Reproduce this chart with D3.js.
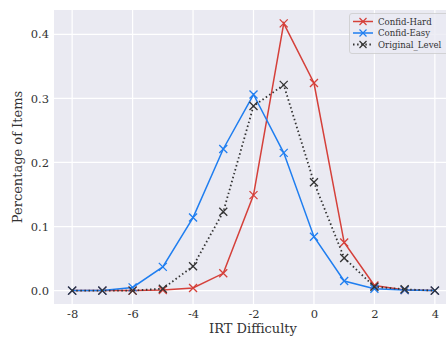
<!DOCTYPE html>
<html><head><meta charset="utf-8">
<script src="https://cdn.jsdelivr.net/npm/d3@7"></script>
<style>body{margin:0;background:#fff}svg{display:block}</style>
</head><body>
<script>
const xs = [-8,-7,-6,-5,-4,-3,-2,-1,0,1,2,3,4];
const confidHard = [0,0,0,0.001,0.004,0.027,0.149,0.417,0.324,0.075,0.008,0.001,0];
const confidEasy = [0,0,0.005,0.037,0.114,0.221,0.306,0.215,0.084,0.015,0.003,0.001,0];
const originalLevel = [0,0,0,0.003,0.038,0.123,0.288,0.321,0.169,0.051,0.006,0.002,0];
const seriesNames = ["Confid-Hard","Confid-Easy","Original_Level"];
const xTicks = [-8,-6,-4,-2,0,2,4];
const yTicks = [0.0,0.1,0.2,0.3,0.4];

const W=446,H=338;
const L=54,R=453,T=10,B=304;
const svg=d3.select("body").append("svg").attr("width",W).attr("height",H);
const x=d3.scaleLinear().domain([-8.6,4.6]).range([L,R]);
const y=d3.scaleLinear().domain([-0.0209,0.4379]).range([B,T]);
const font="DejaVu Serif";
svg.append("rect").attr("x",L).attr("y",T).attr("width",R-L).attr("height",B-T).attr("fill","#eaeaf2");
const g=svg.append("g");
g.selectAll(".vg").data(xTicks).enter().append("line").attr("x1",d=>x(d)).attr("x2",d=>x(d)).attr("y1",T).attr("y2",B).attr("stroke","#fff").attr("stroke-width",1.2);
g.selectAll(".hg").data(yTicks).enter().append("line").attr("x1",L).attr("x2",R).attr("y1",d=>y(d)).attr("y2",d=>y(d)).attr("stroke","#fff").attr("stroke-width",1.2);

const xAxis=d3.axisBottom(x).tickValues(xTicks).tickSize(0).tickPadding(6).tickFormat(d=>String(d));
const xa=svg.append("g").attr("transform",`translate(0,${B})`).call(xAxis);
xa.select(".domain").remove();
xa.selectAll("text").attr("font-family",font).attr("font-size",11.5).attr("fill","#333");
const yAxis=d3.axisLeft(y).tickValues(yTicks).tickSize(0).tickPadding(5).tickFormat(d3.format(".1f"));
const ya=svg.append("g").attr("transform",`translate(${L},0)`).call(yAxis);
ya.select(".domain").remove();
ya.selectAll("text").attr("font-family",font).attr("font-size",11.5).attr("fill","#333");

svg.append("text").attr("x",(L+446)/2+3).attr("y",333).attr("text-anchor","middle").attr("font-family",font).attr("font-size",13).attr("fill","#333").text("IRT Difficulty");
svg.append("text").attr("transform",`translate(22,${(T+B)/2}) rotate(-90)`).attr("text-anchor","middle").attr("font-family",font).attr("font-size",13).attr("fill","#333").text("Percentage of Items");

const cfg=[
 {vals:confidHard,color:"#d5403a",dash:null,w:1.5},
 {vals:confidEasy,color:"#1f7ef0",dash:null,w:1.5},
 {vals:originalLevel,color:"#333333",dash:"1.5,2.6",w:1.8}
];
const line=d3.line().x(d=>x(d[0])).y(d=>y(d[1]));
function xmark(sel,cx,cy,s,color,w){
 sel.append("path").attr("d",`M${cx-s},${cy-s}L${cx+s},${cy+s}M${cx-s},${cy+s}L${cx+s},${cy-s}`).attr("stroke",color).attr("stroke-width",w).attr("fill","none");
}
cfg.forEach(c=>{
 const pts=xs.map((v,i)=>[v,c.vals[i]]);
 const gg=svg.append("g");
 gg.append("path").datum(pts).attr("d",line).attr("fill","none").attr("stroke",c.color).attr("stroke-width",c.w).attr("stroke-dasharray",c.dash);
 pts.forEach(p=>xmark(gg,x(p[0]),y(p[1]),4,c.color,1.3));
});

// legend
const lg=svg.append("g");
lg.append("rect").attr("x",349.5).attr("y",13.5).attr("width",110).attr("height",40).attr("rx",2.5).attr("fill","#eaeaf2").attr("fill-opacity",0.8).attr("stroke","#cccccc").attr("stroke-width",0.8);
seriesNames.forEach((n,i)=>{
 const yy=21.5+i*11.5, c=cfg[i];
 lg.append("line").attr("x1",353).attr("x2",373).attr("y1",yy).attr("y2",yy).attr("stroke",c.color).attr("stroke-width",c.w).attr("stroke-dasharray",c.dash);
 xmark(lg,363,yy,3.5,c.color,1.2);
 lg.append("text").attr("x",378).attr("y",yy+3.2).attr("font-family",font).attr("font-size",8.6).attr("fill","#333").text(n);
});
</script>
</body></html>
